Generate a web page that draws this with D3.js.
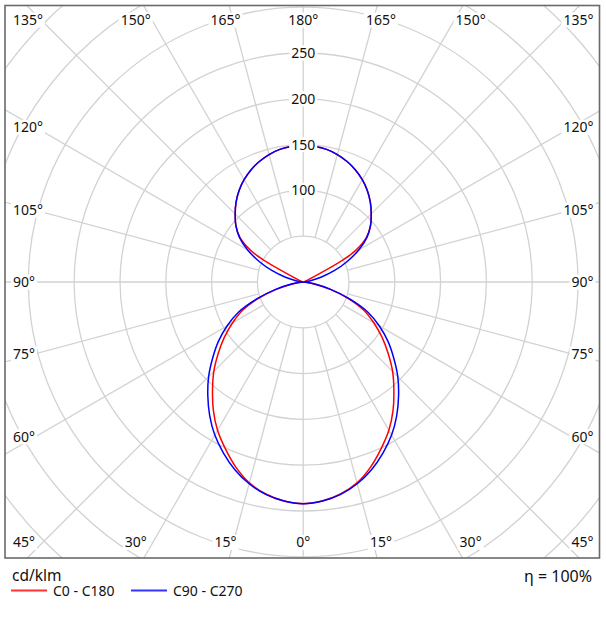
<!DOCTYPE html>
<html><head><meta charset="utf-8">
<script src="https://cdn.jsdelivr.net/npm/d3@7"></script>
<style>
body{margin:0;background:#fff}
svg{display:block}
text{font-family:"Noto Sans",sans-serif;fill:#111}
</style>
</head><body>
<svg id="chart" width="606" height="618"></svg>
<script>
// ---- data ----
const gammaAngles = [0,5,10,15,20,25,30,35,40,45,50,55,60,65,70,75,80,85,90,95,100,105,110,115,120,125,130,135,140,145,150,155,160,165,170,175,180];
const c0c180  = [242,240,235,227,215,201,187,171,154,138,121,105,89,73,52,30,12,3,0,0,0,0,2,8,60,84,96,105,114,122,129,135,140,144,147,148.5,149];
const c90c270 = [242,240,235.5,228,218,206,193,178,162,146,129,113,96,78,54,31,13,3,0,2,8,20,36,53,70,85,96,105,114,122,129,135,140,144,147,148.5,149];
const gridCircleValues = [50,100,150,200,250,300,350,400,450,500];
const intensityTickValues = [100,150,200,250];
const angleTickValues = [0,15,30,45,60,75,90,105,120,135,150,165,180];
const seriesNames = ["C0 - C180","C90 - C270"];
const seriesColors = ["#ff0000","#0000ff"];
const unitLabel = "cd/klm";
const efficiencyLabel = "\u03b7 = 100%";

// ---- layout ----
const box = {x0:5, y0:5.5, x1:599.5, y1:558};
const cx = 303.2, cy = 282;
const r = d3.scaleLinear().domain([0,250]).range([0,229]);
const rad = d => d*Math.PI/180;

const svg = d3.select("#chart");
svg.append("rect").attr("width",606).attr("height",618).attr("fill","#fff");
svg.append("defs").append("clipPath").attr("id","clip").append("rect")
  .attr("x",box.x0).attr("y",box.y0).attr("width",box.x1-box.x0).attr("height",box.y1-box.y0);

const plot = svg.append("g").attr("clip-path","url(#clip)");
const c = plot.append("g").attr("transform",`translate(${cx},${cy})`);

// grid circles
c.selectAll("circle.grid").data(gridCircleValues).join("circle")
  .attr("class","grid").attr("r",d=>r(d)).attr("fill","none")
  .attr("stroke","#d2d2d2").attr("stroke-width",1.3);

// spokes every 15 deg, from the 50 circle outwards
const spokes = d3.range(0,360,15);
c.selectAll("line.spoke").data(spokes).join("line")
  .attr("class","spoke")
  .attr("x1",d=>r(50)*Math.sin(rad(d))).attr("y1",d=>r(50)*Math.cos(rad(d)))
  .attr("x2",d=>r(600)*Math.sin(rad(d))).attr("y2",d=>r(600)*Math.cos(rad(d)))
  .attr("stroke","#d2d2d2").attr("stroke-width",1.3);

// curves
function pts(vals){
  const right = gammaAngles.map((g,i)=>({a:Math.PI-rad(g), v:vals[i]}));
  const left = gammaAngles.slice().reverse().map((g,j)=>({a:Math.PI+rad(g), v:vals[gammaAngles.length-1-j]}));
  return right.concat(left.slice(1,-1));
}
const line = d3.lineRadial().angle(d=>d.a).radius(d=>r(d.v)).curve(d3.curveCatmullRomClosed.alpha(0.5));
[c0c180,c90c270].forEach((vals,i)=>{
  c.append("path").attr("d",line(pts(vals))).attr("fill","none")
    .attr("stroke",seriesColors[i]).attr("stroke-width",1.5);
});

// labels with white background
const labG = svg.append("g");
function label(x,y,txt,size){
  const gg = labG.append("g");
  const rect = gg.append("rect").attr("fill","#fff");
  const t = gg.append("text").attr("x",x).attr("y",y).attr("dy","0.35em")
    .attr("text-anchor","middle").attr("font-size",size||14).text(txt);
  let w = t.node().getComputedTextLength();
  let nx = x;
  const minX = box.x0+8, maxX = box.x1-6;
  if (nx - w/2 < minX) nx = minX + w/2;
  if (nx + w/2 > maxX) nx = maxX - w/2;
  t.attr("x",nx);
  rect.attr("x",nx-w/2-2).attr("y",y-7.5).attr("width",w+4).attr("height",15);
}
angleTickValues.forEach(th=>{
  const sides = (th===0||th===180)?[1]:[-1,1];
  sides.forEach(s=>{
    let x,y;
    if (th<=45){ x = cx + s*290*Math.tan(rad(th)); y = box.y1-15.5; }
    else if (th>=135){ x = cx + s*290*Math.tan(rad(180-th)); y = box.y0+14.5; }
    else { x = s<0 ? box.x0+18.5 : box.x1-16.5; y = cy + 268*Math.tan(rad(90-th)); }
    label(x,y,th+"\u00b0",14);
  });
});
intensityTickValues.forEach(v=>label(cx, cy-r(v), String(v), 14));

// frame
svg.append("rect").attr("x",box.x0).attr("y",box.y0)
  .attr("width",box.x1-box.x0).attr("height",box.y1-box.y0)
  .attr("fill","none").attr("stroke","#6a6a6a").attr("stroke-width",1.6);

// legend
svg.append("text").attr("x",12).attr("y",576).attr("dy","0.35em").attr("font-size",15.5).text(unitLabel);
svg.append("text").attr("x",592).attr("y",576).attr("dy","0.35em").attr("text-anchor","end").attr("font-size",16).text(efficiencyLabel);
const legX = [11,131];
seriesNames.forEach((n,i)=>{
  svg.append("line").attr("x1",legX[i]).attr("x2",legX[i]+36).attr("y1",590.5).attr("y2",590.5)
    .attr("stroke",seriesColors[i]).attr("stroke-opacity",0.8).attr("stroke-width",2);
  svg.append("text").attr("x",legX[i]+42).attr("y",591).attr("dy","0.35em").attr("font-size",14).text(n);
});
</script>
</body></html>
